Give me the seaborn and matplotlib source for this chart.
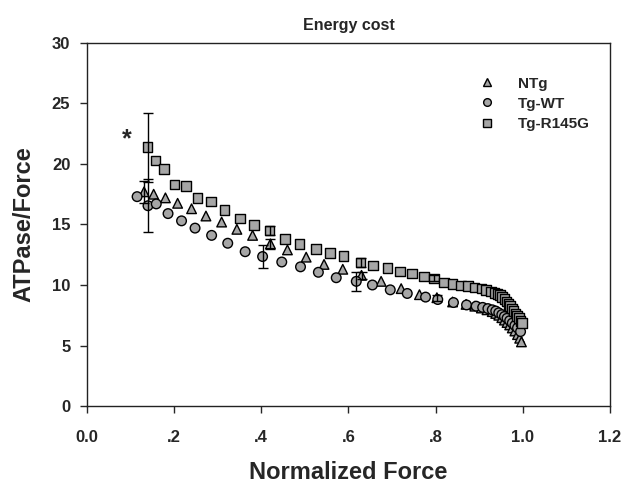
import pandas as pd
import matplotlib
matplotlib.use("Agg")
import matplotlib.pyplot as plt
import seaborn as sns

# NTg (triangles)
ntg_x = [0.131, 0.153, 0.180, 0.208, 0.240, 0.273, 0.309, 0.344, 0.380, 0.421,
         0.460, 0.503, 0.544, 0.587, 0.630, 0.675, 0.721, 0.763, 0.803, 0.839,
         0.870, 0.890, 0.905, 0.918, 0.930, 0.938, 0.945, 0.952, 0.958, 0.964,
         0.970, 0.976, 0.982, 0.988, 0.993, 0.997]
ntg_y = [17.7, 17.5, 17.2, 16.75, 16.3, 15.7, 15.2, 14.6, 14.1, 13.4,
         12.9, 12.3, 11.7, 11.3, 10.8, 10.3, 9.7, 9.2, 8.95, 8.6,
         8.4, 8.25, 8.1, 7.95, 7.8, 7.65, 7.5, 7.3, 7.1, 6.9,
         6.7, 6.45, 6.2, 5.9, 5.6, 5.3]

# Tg-WT (circles)
wt_x = [0.115, 0.140, 0.159, 0.186, 0.217, 0.248, 0.286, 0.323, 0.363, 0.403,
        0.447, 0.490, 0.531, 0.572, 0.618, 0.655, 0.696, 0.735, 0.777, 0.805,
        0.841, 0.871, 0.893, 0.908, 0.920, 0.930, 0.938, 0.945, 0.952, 0.958,
        0.964, 0.970, 0.976, 0.982, 0.988, 0.995]
wt_y = [17.3, 16.55, 16.7, 15.9, 15.3, 14.7, 14.1, 13.45, 12.75, 12.35,
        11.9, 11.5, 11.05, 10.6, 10.3, 10.0, 9.6, 9.3, 9.0, 8.8,
        8.55, 8.35, 8.25, 8.15, 8.05, 7.95, 7.85, 7.7, 7.55, 7.4,
        7.25, 7.05, 6.85, 6.65, 6.45, 6.15]

# Tg-R145G (squares)
r145g_x = [0.139, 0.157, 0.177, 0.201, 0.227, 0.254, 0.284, 0.316, 0.351, 0.383,
           0.419, 0.454, 0.488, 0.525, 0.558, 0.589, 0.628, 0.657, 0.690, 0.719,
           0.746, 0.774, 0.797, 0.820, 0.839, 0.858, 0.874, 0.889, 0.905, 0.916,
           0.927, 0.935, 0.942, 0.948, 0.953, 0.958, 0.963, 0.967, 0.971, 0.975,
           0.979, 0.983, 0.987, 0.991, 0.995, 0.998]
r145g_y = [21.4, 20.3, 19.6, 18.3, 18.2, 17.2, 16.9, 16.2, 15.5, 14.96,
           14.5, 13.8, 13.4, 12.95, 12.65, 12.4, 11.85, 11.6, 11.4, 11.1,
           10.95, 10.7, 10.55, 10.2, 10.1, 9.95, 9.9, 9.8, 9.7, 9.6,
           9.45, 9.35, 9.25, 9.15, 9.0, 8.85, 8.65, 8.45, 8.25, 8.05,
           7.85, 7.65, 7.45, 7.25, 7.05, 6.85]

# error bars (x, y, sem) per group
ntg_err_x = [0.131, 0.421, 0.630, 0.803]
ntg_err_y = [17.7, 13.4, 10.8, 8.95]
ntg_err = [0.9, 0.4, 0.3, 0.25]
wt_err_x = [0.140, 0.403, 0.618]
wt_err_y = [16.55, 12.35, 10.3]
wt_err = [2.2, 0.95, 0.8]
r145g_err_x = [0.139, 0.419, 0.628, 0.797]
r145g_err_y = [21.4, 14.5, 11.85, 10.55]
r145g_err = [2.85, 0.4, 0.35, 0.25]

groups = ["NTg", "Tg-WT", "Tg-R145G"]

df = pd.concat([
    pd.DataFrame({"force": ntg_x, "cost": ntg_y, "group": "NTg"}),
    pd.DataFrame({"force": wt_x, "cost": wt_y, "group": "Tg-WT"}),
    pd.DataFrame({"force": r145g_x, "cost": r145g_y, "group": "Tg-R145G"}),
])

sns.set_style("ticks")
plt.rcParams['font.family'] = ['Liberation Sans', 'DejaVu Sans']
plt.rcParams['font.weight'] = 'bold'

fig = plt.figure(figsize=(6.24, 4.88), dpi=100)
ax = fig.add_axes([0.1394, 0.168, 0.838, 0.744])

gray = "#a6a6a6"
sns.scatterplot(
    data=df, x="force", y="cost", hue="group", style="group",
    hue_order=groups, style_order=groups,
    palette={g: gray for g in groups},
    markers={"NTg": "^", "Tg-WT": "o", "Tg-R145G": "s"},
    s=48, edgecolor="black", linewidth=1.0, ax=ax, zorder=2
)

for ex, ey, ee in [(ntg_err_x, ntg_err_y, ntg_err),
                   (wt_err_x, wt_err_y, wt_err),
                   (r145g_err_x, r145g_err_y, r145g_err)]:
    ax.errorbar(ex, ey, yerr=ee, fmt="none", ecolor="black",
                elinewidth=1.0, capsize=3.5, capthick=1.0, zorder=3)

ax.text(0.092, 22.0, "*", fontsize=18, fontweight="bold", ha="center", va="center")

ax.set_xlim(0, 1.2)
ax.set_ylim(0, 30)
ax.set_xticks([0, 0.2, 0.4, 0.6, 0.8, 1.0, 1.2],
              ["0.0", ".2", ".4", ".6", ".8", "1.0", "1.2"])
ax.set_yticks([0, 5, 10, 15, 20, 25, 30])
ax.tick_params(axis="x", length=5, width=1, pad=12, labelsize=12)
ax.tick_params(axis="y", length=5, width=1, pad=7, labelsize=12)
for lab in ax.get_xticklabels() + ax.get_yticklabels():
    lab.set_fontweight("bold")
for sp in ax.spines.values():
    sp.set_visible(True)
    sp.set_linewidth(1.0)
    sp.set_color("#222222")

ax.set_title("Energy cost", fontsize=11.5, fontweight="bold", pad=9)
ax.set_xlabel("Normalized Force", fontsize=17, fontweight="bold", labelpad=12)
ax.set_ylabel("ATPase/Force", fontsize=17, fontweight="bold", labelpad=12)

leg = ax.legend(title=None, frameon=False, loc="upper left",
                bbox_to_anchor=(0.71, 0.945), fontsize=11,
                handletextpad=1.0, labelspacing=0.4, markerscale=0.8)
for t in leg.get_texts():
    t.set_fontweight("bold")

fig.savefig("out.png", dpi=100)
